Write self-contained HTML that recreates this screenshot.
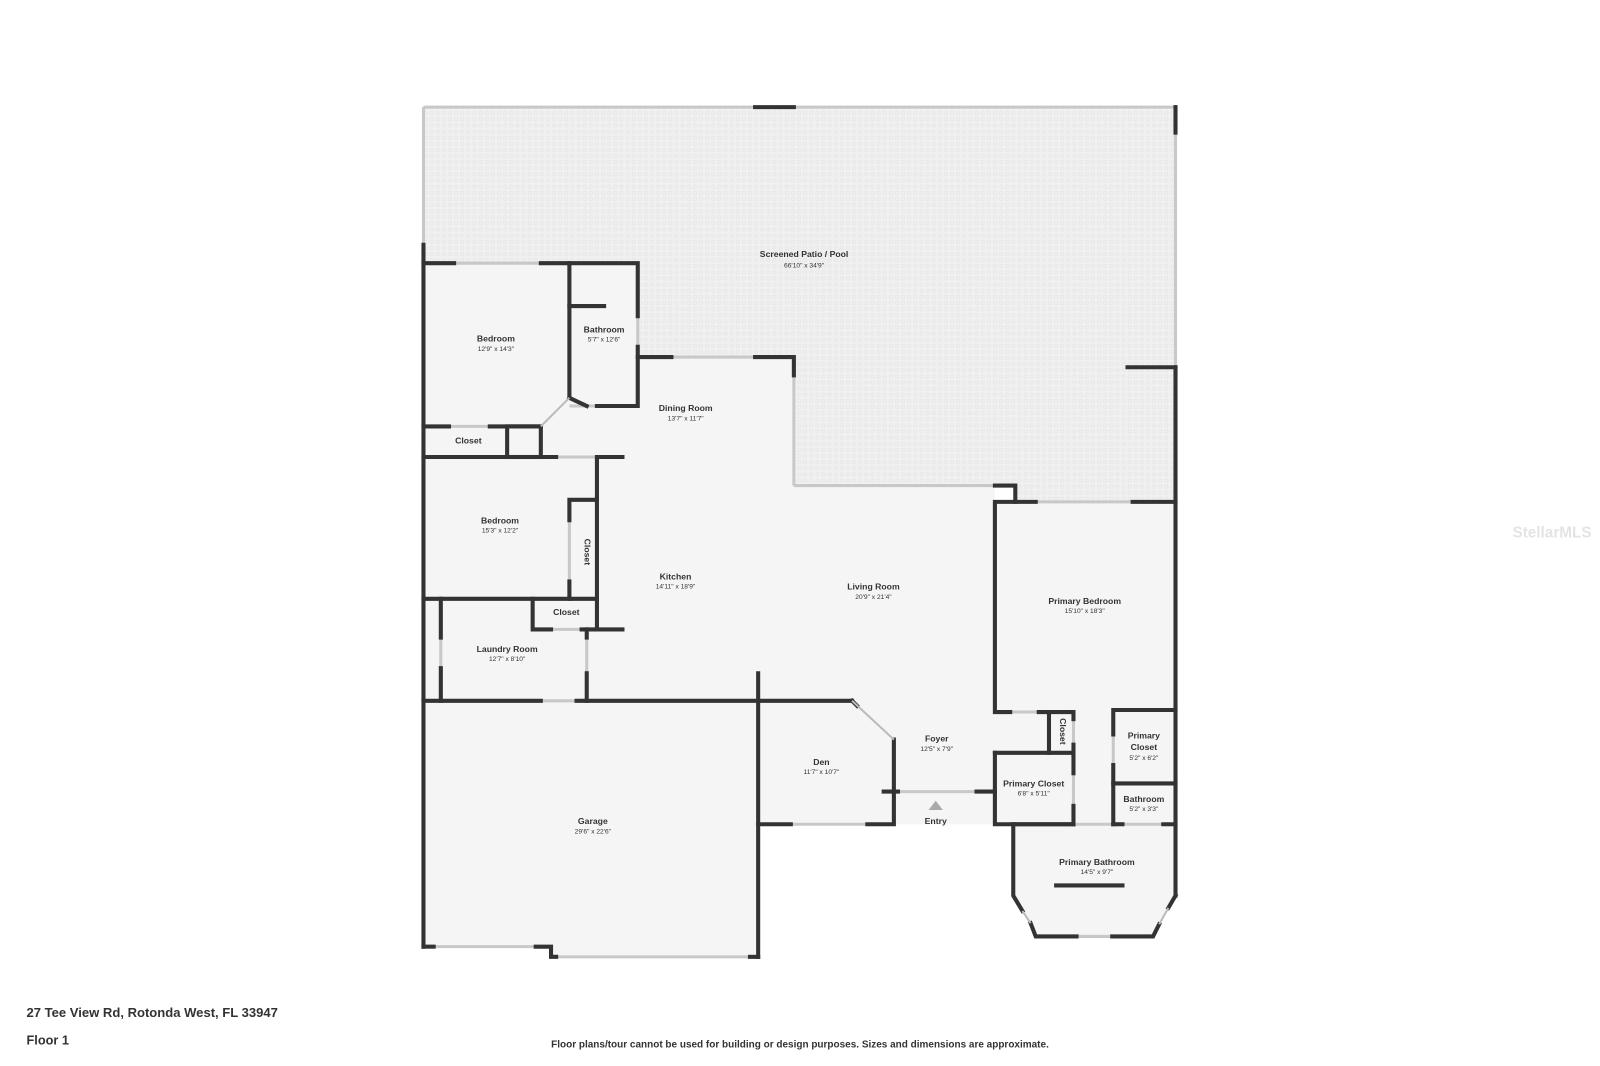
<!DOCTYPE html>
<html><head><meta charset="utf-8"><style>
html,body{margin:0;padding:0;background:#fff;}
svg{display:block;}
text{font-family:"Liberation Sans",sans-serif;fill:#333;text-anchor:middle;}
.n{font-size:8.5px;font-weight:bold;}
.d{font-size:6.5px;}
</style></head><body>
<svg width="1600" height="1066" viewBox="0 0 1568 1045" preserveAspectRatio="none" xmlns="http://www.w3.org/2000/svg">
<defs><pattern id="p" width="6" height="6" patternUnits="userSpaceOnUse"><rect width="6" height="6" fill="#f0f0f0"/><circle cx="3" cy="3" r="1.6" fill="none" stroke="#e2e2e2" stroke-width="0.6"/></pattern></defs>
<polygon points="415,105 1152,105 1152,492 995,492 995,476 778,476 778,350 625,350 625,258 415,258" fill="url(#p)"/>
<polygon points="415,258 625,258 625,350 778,350 778,476 975,476 975,808 876,808 876,725 835,687 743,687 743,938 540,938 540,928 415,928" fill="#f5f5f5"/>
<polygon points="975,492 1152,492 1152,878 1130,918 1015,918 993,878 993,808 975,808" fill="#f5f5f5"/>
<polygon points="743,687 835,687 876,725 876,808 743,808" fill="#f5f5f5"/>
<!-- light window/door underlay -->
<g stroke="#c8c8c8" stroke-width="3" fill="none">
<line x1="415" y1="105" x2="1152" y2="105"/><line x1="415" y1="105" x2="415" y2="240"/><line x1="1152" y1="105" x2="1152" y2="360"/>
<line x1="778" y1="476" x2="975" y2="476"/><line x1="778" y1="350" x2="778" y2="476"/><line x1="625" y1="350" x2="778" y2="350"/>
<line x1="415" y1="258" x2="625" y2="258"/><line x1="625" y1="258" x2="625" y2="398"/><line x1="558" y1="398" x2="625" y2="398"/>
<line x1="415" y1="418" x2="530" y2="418"/><line x1="530" y1="418" x2="530" y2="448"/><line x1="415" y1="448" x2="610" y2="448"/>
<line x1="558" y1="490" x2="558" y2="587"/><line x1="432" y1="587" x2="432" y2="687"/><line x1="522" y1="617" x2="610" y2="617"/>
<line x1="575" y1="617" x2="575" y2="687"/><line x1="415" y1="687" x2="835" y2="687"/>
<line x1="415" y1="928" x2="540" y2="928"/><line x1="540" y1="938" x2="743" y2="938"/>
<line x1="743" y1="808" x2="876" y2="808"/><line x1="876" y1="776" x2="975" y2="776"/>
<line x1="975" y1="492" x2="1152" y2="492"/><line x1="975" y1="698" x2="1052" y2="698"/>
<line x1="1052" y1="698" x2="1052" y2="808"/><line x1="1091" y1="696" x2="1091" y2="808"/><line x1="1052" y1="808" x2="1152" y2="808"/>
<line x1="1015" y1="918" x2="1130" y2="918"/>
</g>
<g stroke="#333" stroke-width="4" fill="none" stroke-linecap="square">
<line x1="740" y1="105" x2="778" y2="105"/>
<line x1="1152" y1="105" x2="1152" y2="130"/>
<line x1="415" y1="240" x2="415" y2="928"/>
<line x1="1152" y1="360" x2="1152" y2="878"/>
<line x1="1105" y1="360" x2="1152" y2="360"/>
<polyline points="415,258 445,258"/><polyline points="530,258 625,258 625,310"/>
<line x1="558" y1="258" x2="558" y2="390"/><line x1="558" y1="300" x2="592" y2="300"/>
<polyline points="625,340 625,398 585,398"/>
<polyline points="625,350 658,350"/><polyline points="740,350 778,350 778,368"/>
<line x1="558" y1="390" x2="575" y2="398"/>
<line x1="415" y1="418" x2="440" y2="418"/><line x1="480" y1="418" x2="530" y2="418"/>
<rect x="497" y="418" width="33" height="30"/>
<line x1="415" y1="448" x2="545" y2="448"/><line x1="585" y1="448" x2="610" y2="448"/>
<line x1="585" y1="450" x2="585" y2="617"/>
<polyline points="558,510 558,490 585,490"/><line x1="558" y1="570" x2="558" y2="587"/>
<line x1="415" y1="587" x2="585" y2="587"/>
<line x1="432" y1="587" x2="432" y2="625"/><line x1="432" y1="655" x2="432" y2="687"/>
<polyline points="522,587 522,617 540,617"/><line x1="570" y1="617" x2="610" y2="617"/>
<line x1="575" y1="617" x2="575" y2="625"/><line x1="575" y1="660" x2="575" y2="687"/>
<line x1="415" y1="687" x2="530" y2="687"/><line x1="565" y1="687" x2="835" y2="687"/>
<polyline points="835,687 840,692"/>
<line x1="743" y1="660" x2="743" y2="938"/>
<polyline points="415,928 425,928"/><polyline points="525,928 540,928 540,938 545,938"/><line x1="735" y1="938" x2="743" y2="938"/>
<polyline points="876,725 876,808 850,808"/><polyline points="743,808 775,808"/>
<line x1="866" y1="776" x2="880" y2="776"/><line x1="957" y1="776" x2="975" y2="776"/>
<polyline points="975,776 975,808 1052,808"/>
<polyline points="975,476 995,476 995,492 975,492 975,698 990,698"/>
<line x1="995" y1="492" x2="1015" y2="492"/><line x1="1110" y1="492" x2="1152" y2="492"/>
<line x1="1018" y1="698" x2="1052" y2="698"/>
<line x1="1028" y1="698" x2="1028" y2="738"/>
<line x1="975" y1="738" x2="1052" y2="738"/><line x1="975" y1="738" x2="975" y2="776"/>
<line x1="1052" y1="698" x2="1052" y2="705"/><line x1="1052" y1="730" x2="1052" y2="758"/><line x1="1052" y1="790" x2="1052" y2="808"/>
<polyline points="1091,720 1091,696 1152,696"/><line x1="1091" y1="750" x2="1091" y2="808"/>
<line x1="1091" y1="768" x2="1152" y2="768"/><line x1="1091" y1="808" x2="1100" y2="808"/><line x1="1140" y1="808" x2="1152" y2="808"/>
<line x1="993" y1="808" x2="1052" y2="808"/>
<polyline points="993,808 993,878 1002,893"/><polyline points="1010,905 1015,918 1055,918"/><polyline points="1090,918 1130,918 1136,906"/><polyline points="1145,890 1152,878"/>
<line x1="1035" y1="868" x2="1100" y2="868"/>
</g>
<g stroke="#bbb" stroke-width="2"><line x1="1002" y1="893" x2="1010" y2="905"/><line x1="1136" y1="906" x2="1145" y2="890"/><line x1="835" y1="687" x2="876" y2="725"/><line x1="530" y1="418" x2="558" y2="390"/></g>
<polygon points="917,785 910,794 924,794" fill="#aaa"/>
<text class="n" x="788" y="252">Screened Patio / Pool</text><text class="d" x="788" y="262">66'10" x 34'9"</text>
<text class="n" x="486" y="335">Bedroom</text><text class="d" x="486" y="344">12'9" x 14'3"</text>
<text class="n" x="592" y="326">Bathroom</text><text class="d" x="592" y="335">5'7" x 12'6"</text>
<text class="n" x="672" y="403">Dining Room</text><text class="d" x="672" y="412">13'7" x 11'7"</text>
<text class="n" x="459" y="435">Closet</text>
<text class="n" x="490" y="513">Bedroom</text><text class="d" x="490" y="522">15'3" x 12'2"</text>
<text class="n" x="573" y="541" transform="rotate(90 573 541)">Closet</text>
<text class="n" x="662" y="568">Kitchen</text><text class="d" x="662" y="577">14'11" x 18'9"</text>
<text class="n" x="856" y="578">Living Room</text><text class="d" x="856" y="587">20'9" x 21'4"</text>
<text class="n" x="1063" y="592">Primary Bedroom</text><text class="d" x="1063" y="601">15'10" x 18'3"</text>
<text class="n" x="555" y="603">Closet</text>
<text class="n" x="497" y="639">Laundry Room</text><text class="d" x="497" y="648">12'7" x 8'10"</text>
<text class="n" x="918" y="727">Foyer</text><text class="d" x="918" y="736">12'5" x 7'9"</text>
<text class="n" x="1039" y="717" transform="rotate(90 1039 717)">Closet</text>
<text class="n" x="1121" y="724">Primary</text><text class="n" x="1121" y="735">Closet</text><text class="d" x="1121" y="745">5'2" x 6'2"</text>
<text class="n" x="805" y="750">Den</text><text class="d" x="805" y="759">11'7" x 10'7"</text>
<text class="n" x="1013" y="771">Primary Closet</text><text class="d" x="1013" y="780">6'8" x 5'11"</text>
<text class="n" x="1121" y="786">Bathroom</text><text class="d" x="1121" y="795">5'2" x 3'3"</text>
<text class="n" x="917" y="808">Entry</text>
<text class="n" x="581" y="808">Garage</text><text class="d" x="581" y="817">29'6" x 22'6"</text>
<text class="n" x="1075" y="848">Primary Bathroom</text><text class="d" x="1075" y="857">14'5" x 9'7"</text>
<text x="1521" y="527" style="font-size:15px;fill:#e4e4e4;font-weight:bold">StellarMLS</text>
<text x="26" y="997" style="font-size:12.8px;font-weight:bold;text-anchor:start">27 Tee View Rd, Rotonda West, FL 33947</text>
<text x="26" y="1024" style="font-size:12.5px;font-weight:bold;text-anchor:start">Floor 1</text>
<text x="784" y="1027" style="font-size:9.8px;font-weight:bold">Floor plans/tour cannot be used for building or design purposes. Sizes and dimensions are approximate.</text>
</svg>
</body></html>
